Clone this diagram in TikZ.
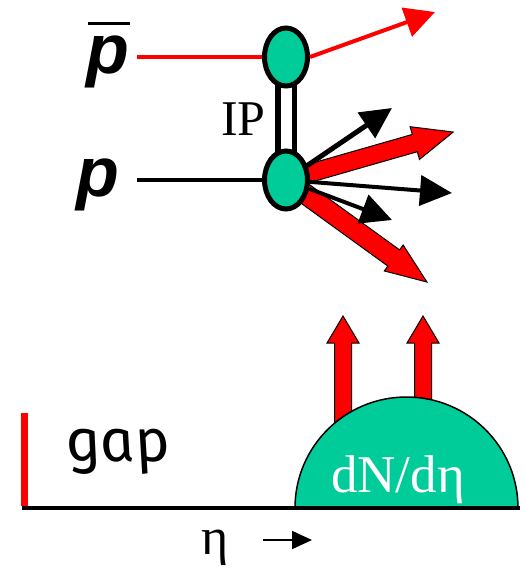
\documentclass[tikz,border=0pt]{standalone}
\usepackage{fontspec}
\setmainfont{Liberation Serif}
\newfontfamily\labelfont{Liberation Sans}
\newfontfamily\gapfont{Fira Sans Italic}[FakeSlant=-0.2]
\usetikzlibrary{arrows.meta,shapes.geometric,backgrounds}

% red block arrow: start, angle, length, half shaft, half head, head length
\newcommand{\blockarrow}[6]{%
  \begin{scope}[shift={#1}, rotate=#2]
    \filldraw[blockstyle] (0,-#4) -- (#3-#6,-#4) -- (#3-#6,-#5) -- (#3,0)
      -- (#3-#6,#5) -- (#3-#6,#4) -- (0,#4) -- cycle;
  \end{scope}}

\begin{document}
\begin{tikzpicture}[x=1pt, y=-1pt,
  vertex/.style={ellipse, draw, line width=5pt, fill=vtxgreen,
    minimum width=43pt, minimum height=58pt, inner sep=0pt},
  plabel/.style={font=\fontsize{70}{70}\labelfont\bfseries\itshape, inner sep=0pt},
  blockstyle/.style={fill=red, draw=black, line width=1pt},
  thinarrow/.style={line width=5pt, -{Triangle[length=31pt,width=30pt]}}]

\definecolor{vtxgreen}{RGB}{0, 204, 153}

\useasboundingbox (0,0) rectangle (524,570);

% beams and vertices
\node[plabel] (pbar) at (108,62) {p};
\draw[line width=3pt] ([xshift=2pt,yshift=12pt]pbar.north west) -- ([yshift=12pt]pbar.north east);
\node[plabel] (prot) at (98,185) {p};

\node[vertex] (vtxup) at (286,57) {};
\node[vertex] (vtxdown) at (286,180) {};
\node[font=\fontsize{50}{50}\selectfont, inner sep=0pt] (ip) at (243.5,119.5) {IP};

\coordinate (pbarL) at (137,57);
\coordinate (protL) at (137,180);
\coordinate (pbarout) at (435,12);
\coordinate (jet1) at (392,108);
\coordinate (jet2) at (452,193);
\coordinate (jet3) at (392,220);

\begin{scope}[on background layer]
  \draw[line width=5.5pt, double=white, double distance=11pt] (vtxup.center) -- (vtxdown.center);
  \blockarrow{(286,180)}{16}{174}{9}{17}{40}
  \blockarrow{(286,180)}{-35.9}{174}{10}{16}{41}
  \draw[thinarrow] (vtxdown) -- (jet1);
  \draw[thinarrow, line width=4pt, -{Triangle[length=32pt,width=30pt]}] (vtxdown) -- (jet2);
  \draw[thinarrow, line width=4pt] (vtxdown) -- (jet3);
\end{scope}

\draw[red, line width=4pt] (pbarL) -- (vtxup);
\draw[line width=4pt] (protL) -- (vtxdown);
\draw[red, line width=4pt, -{Triangle[length=30pt,width=30pt]}] (vtxup.east) -- (pbarout);

% rapidity plot
\blockarrow{(343,508)}{90}{192}{8.5}{16}{27}
\blockarrow{(423,508)}{90}{192}{8.5}{16}{27}
\filldraw[fill=vtxgreen, draw=black, line width=1.5pt] (295,508)
  arc[start angle=180, end angle=0, x radius=111.5pt, y radius=111pt] -- cycle;
\node[text=white, font=\fontsize{53}{53}\selectfont, inner sep=0pt] (dndeta) at (398,480) {dN/dη};

\coordinate (gapT) at (24,413);
\coordinate (gapB) at (24,506);
\coordinate (axisL) at (22,508);
\coordinate (axisR) at (520,508);
\draw[red, line width=7pt] (gapT) -- (gapB);
\draw[line width=4pt] (axisL) -- (axisR);
\node[font=\fontsize{60}{60}\gapfont, inner sep=0pt] (gap) at (121,452) {gap};

\node[font=\fontsize{52}{52}\selectfont, inner sep=0pt] (eta) at (215,548) {η};
\coordinate (etaL) at (263,540);
\coordinate (etaR) at (312,540);
\draw[line width=2pt, -{Triangle[length=20pt,width=18pt]}] (etaL) -- (etaR);

\end{tikzpicture}
\end{document}
